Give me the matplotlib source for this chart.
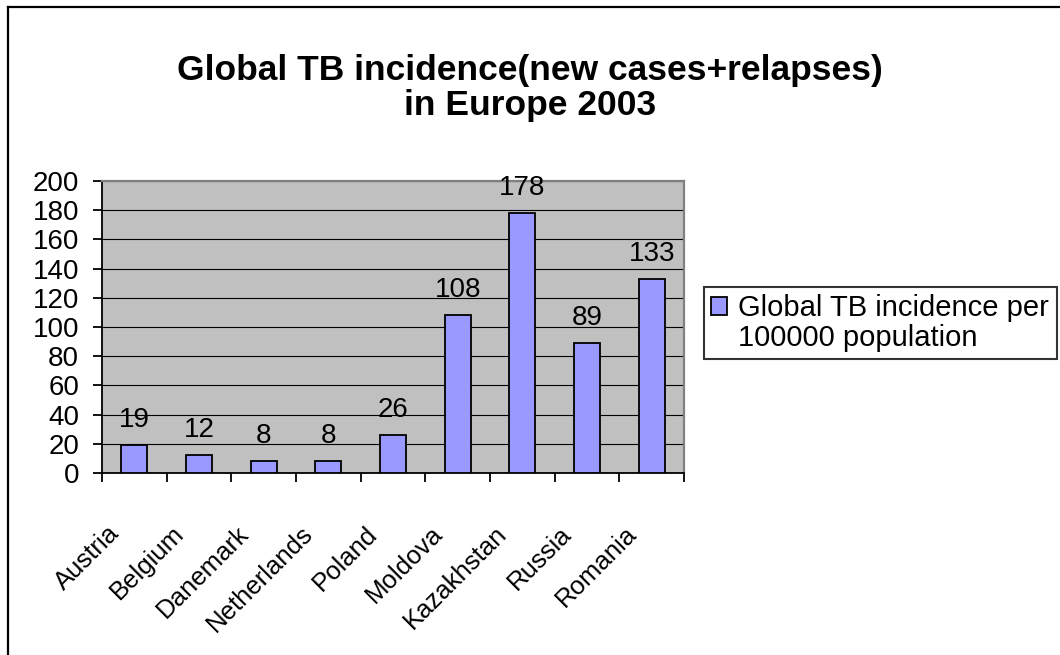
import numpy as np
import matplotlib.pyplot as plt
import matplotlib.transforms as mtransforms
from matplotlib.lines import Line2D
from matplotlib.patches import Rectangle

plt.rcParams['font.family'] = ['Liberation Sans', 'DejaVu Sans']

countries = ['Austria', 'Belgium', 'Danemark', 'Netherlands', 'Poland',
             'Moldova', 'Kazakhstan', 'Russia', 'Romania']
incidence = [19, 12, 8, 8, 26, 108, 178, 89, 133]
legend_lines = ['Global TB incidence per', '100000 population']
title = 'Global TB incidence(new cases+relapses)\nin Europe 2003'

fig = plt.figure(figsize=(10.6, 6.55), dpi=100)
fig.patch.set_facecolor('white')

# frame of the chart area (only top and left edges are visible)
fig.add_artist(Line2D([8/1060, 8/1060], [0, 1 - 7/655], color='black', lw=1.6,
                      transform=fig.transFigure))
fig.add_artist(Line2D([8/1060, 1], [1 - 7/655, 1 - 7/655], color='black', lw=1.6,
                      transform=fig.transFigure))

ax = fig.add_axes([102/1060, 1 - 473/655, 582/1060, 292/655])
ax.set_facecolor('#C0C0C0')

x = np.arange(len(countries))
bars = ax.bar(x, incidence, width=0.4, color='#9999FF', edgecolor='black',
              linewidth=1.3, zorder=3)

for xi, v in zip(x, incidence):
    ax.annotate(str(v), (xi, v), xytext=(0, 13), textcoords='offset points',
                ha='center', va='baseline', fontsize=20, zorder=4)

ax.set_xlim(-0.5, len(countries) - 0.5)
ax.set_ylim(0, 200)
ax.set_yticks(np.arange(0, 201, 20))
ax.yaxis.grid(True, color='black', lw=0.8, zorder=1)
ax.set_axisbelow(True)

ax.spines['top'].set_color('#808080')
ax.spines['right'].set_color('#808080')
ax.spines['top'].set_linewidth(1.6)
ax.spines['right'].set_linewidth(1.6)
ax.spines['left'].set_linewidth(1.3)
ax.spines['bottom'].set_linewidth(1.3)

ax.tick_params(axis='y', direction='out', length=6.5, width=1.3, pad=10, labelsize=20)
ax.set_xticks(x)
ax.set_xticklabels(countries, rotation=45, ha='right', va='center',
                   rotation_mode='anchor', fontsize=18.5)
ax.tick_params(axis='x', which='major', length=0, pad=41)
ax.set_xticks(np.arange(-0.5, len(countries)), minor=True)
ax.tick_params(axis='x', which='minor', direction='out', length=6.5, width=1.3)

shift = mtransforms.ScaledTranslation(-19/100, 0, fig.dpi_scale_trans)
for lab in ax.get_xticklabels():
    lab.set_transform(lab.get_transform() + shift)

fig.text(530/1060, 1 - 88/655, title, ha='center', va='center', fontsize=25.5,
         fontweight='bold', linespacing=1.1)

# legend: marker sits next to the first line of the series name
blank = Rectangle((0, 0), 1, 1, fill=False, edgecolor='none')
leg = fig.legend(handles=[bars, blank], labels=legend_lines, loc='upper left',
                 bbox_to_anchor=(704/1060, 1 - 287/655), fontsize=21,
                 frameon=True, fancybox=False, edgecolor='black',
                 handlelength=0.55, handleheight=0.55, handletextpad=0.38,
                 labelspacing=0.05, borderpad=0.25, borderaxespad=0)
leg.get_frame().set_linewidth(1.5)

fig.savefig('out.png', dpi=100)
